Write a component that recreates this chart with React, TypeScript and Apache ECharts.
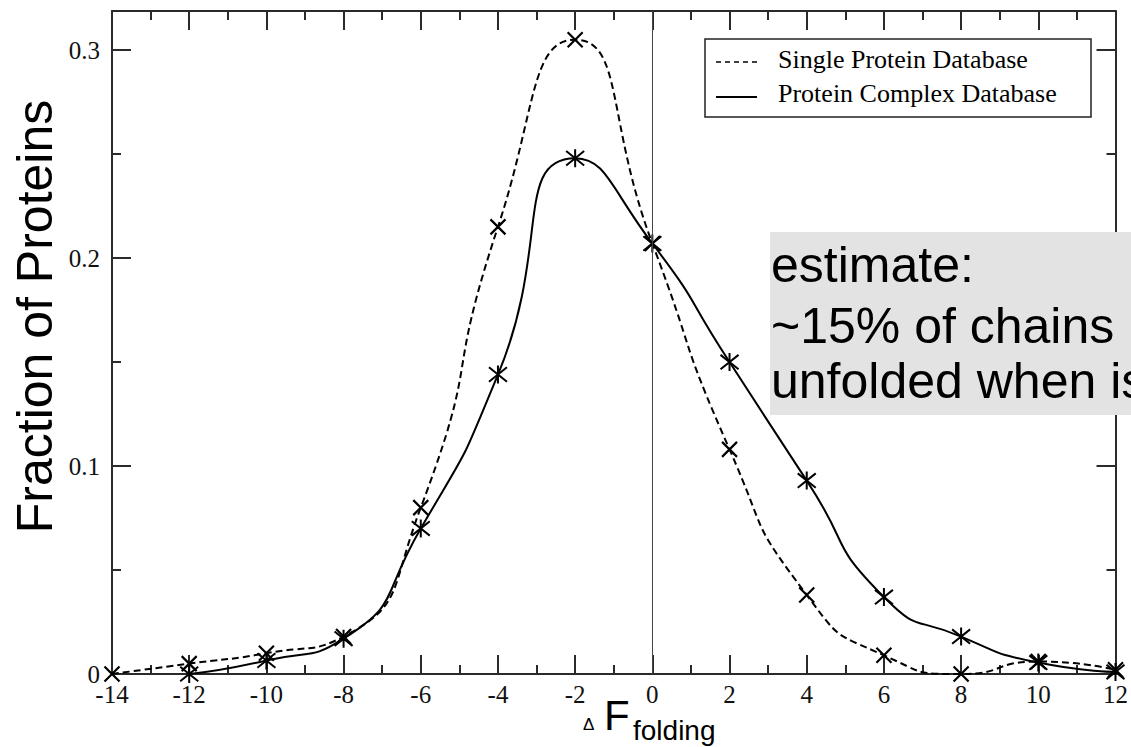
import React, { useEffect, useRef } from "react";
import * as echarts from "echarts";

const xValues = [-14, -12, -10, -8, -6, -4, -2, 0, 2, 4, 6, 8, 10, 12];
const singleValues = [0, 0.005, 0.01, 0.018, 0.08, 0.215, 0.305, 0.207, 0.108, 0.038, 0.009, 0.0, 0.006, 0.002];
const complexX = [-12, -10, -8, -6, -4, -2, 0, 2, 4, 6, 8, 10, 12];
const complexValues = [0.0, 0.0065, 0.017, 0.07, 0.144, 0.248, 0.207, 0.15, 0.093, 0.037, 0.018, 0.0055, 0.001];
const seriesNames = ["Single Protein Database", "Protein Complex Database"];
const yTitle = "Fraction of Proteins";
const noteLines = ["estimate:", "~15% of chains", "unfolded when is"];

const AXIS_COLOR = "#2a2a2a";
const CROSS = "path://M0,0L10,10M10,0L0,10";
const STAR = "path://M1,1L9,9M9,1L1,9M5,0L5,10";

export default function App() {
  const ref = useRef<HTMLDivElement>(null);
  useEffect(() => {
    document.body.style.margin = "0";
    const chart = echarts.init(ref.current!, null, { renderer: "svg" });
    const tickCommon = {
      axisLine: { show: true, onZero: false, lineStyle: { color: AXIS_COLOR, width: 2 } },
      axisTick: { show: true, inside: true, length: 19, lineStyle: { color: AXIS_COLOR, width: 2 } },
      minorTick: { show: true, splitNumber: 2, length: 9, lineStyle: { color: AXIS_COLOR, width: 2 } },
      splitLine: { show: false },
      minorSplitLine: { show: false },
    };
    const labelStyle = { fontFamily: "Liberation Serif", fontSize: 25, color: "#111" };
    chart.setOption({
      animation: false,
      backgroundColor: "#ffffff",
      grid: { left: 112, right: 6, top: 11, bottom: 73 },
      xAxis: [
        {
          type: "value", position: "bottom", min: -14, max: 12, interval: 2,
          ...tickCommon,
          axisLabel: { ...labelStyle, margin: 8 },
        },
        {
          type: "value", position: "top", min: -14, max: 12, interval: 2,
          ...tickCommon,
          axisLabel: { show: false },
        },
      ],
      yAxis: [
        {
          type: "value", position: "left", min: 0, max: 0.3188, interval: 0.1,
          ...tickCommon,
          axisLabel: { ...labelStyle, margin: 12, showMaxLabel: false, formatter: (v: number) => (v === 0 ? "0" : String(+v.toFixed(1))) },
        },
        {
          type: "value", position: "right", min: 0, max: 0.3188, interval: 0.1,
          ...tickCommon,
          axisLabel: { show: false },
        },
      ],
      series: [
        {
          name: seriesNames[0],
          type: "line",
          smooth: 0.6,
          data: xValues.map((x, i) => [x, singleValues[i]]),
          lineStyle: { color: "#000", width: 2, type: [7, 4] },
          symbol: CROSS,
          symbolSize: 15,
          itemStyle: { color: "#000", borderColor: "#000", borderWidth: 2.2 },
          markLine: {
            silent: true,
            symbol: "none",
            label: { show: false },
            lineStyle: { type: "solid", color: "#444", width: 1 },
            data: [{ xAxis: 0 }],
          },
          z: 3,
        },
        {
          name: seriesNames[1],
          type: "line",
          smooth: 0.6,
          data: complexX.map((x, i) => [x, complexValues[i]]),
          lineStyle: { color: "#000", width: 2, type: "solid" },
          symbol: STAR,
          symbolSize: 18,
          itemStyle: { color: "#000", borderColor: "#000", borderWidth: 2 },
          z: 3,
        },
      ],
      graphic: [
        // legend
        { type: "rect", shape: { x: 705, y: 39, width: 386, height: 78 }, style: { fill: "#fff", stroke: "#222", lineWidth: 1.5 }, z: 10 },
        { type: "line", shape: { x1: 716, y1: 62, x2: 757, y2: 62 }, style: { stroke: "#000", lineWidth: 1.5, lineDash: [5, 4] }, z: 11 },
        { type: "line", shape: { x1: 716, y1: 97, x2: 757, y2: 97 }, style: { stroke: "#000", lineWidth: 2 }, z: 11 },
        { type: "text", x: 778, y: 59, style: { text: seriesNames[0], font: "26px 'Liberation Serif'", fill: "#000", verticalAlign: "middle" }, z: 11 },
        { type: "text", x: 778, y: 93.5, style: { text: seriesNames[1], font: "26px 'Liberation Serif'", fill: "#000", verticalAlign: "middle" }, z: 11 },
        // annotation box
        { type: "rect", shape: { x: 770, y: 232, width: 370, height: 183 }, style: { fill: "#e3e3e3" }, z: 12 },
        { type: "text", x: 771, y: 264.7, style: { text: noteLines[0], font: "50px 'Liberation Sans'", fill: "#000", verticalAlign: "middle" }, z: 13 },
        { type: "text", x: 771, y: 325.7, style: { text: noteLines[1], font: "50px 'Liberation Sans'", fill: "#000", verticalAlign: "middle" }, z: 13 },
        { type: "text", x: 771, y: 380.7, style: { text: noteLines[2], font: "50px 'Liberation Sans'", fill: "#000", verticalAlign: "middle" }, z: 13 },
        // y title
        { type: "text", x: 34.7, y: 316.5, rotation: Math.PI / 2, style: { text: yTitle, font: "50px 'Liberation Sans'", fill: "#000", align: "center", verticalAlign: "middle" }, z: 10 },
        // x title
        { type: "text", x: 583, y: 724, style: { text: "Δ", font: "17px 'Liberation Sans'", fill: "#000", verticalAlign: "middle" }, z: 10 },
        { type: "text", x: 604, y: 715.5, style: { text: "F", font: "42px 'Liberation Sans'", fill: "#000", verticalAlign: "middle" }, z: 10 },
        { type: "text", x: 633, y: 730.3, style: { text: "folding", font: "28px 'Liberation Sans'", fill: "#000", verticalAlign: "middle" }, z: 10 },
      ],
    });
    return () => chart.dispose();
  }, []);
  return <div ref={ref} style={{ position: "fixed", left: 0, top: 0, width: 1131, height: 747 }} />;
}
